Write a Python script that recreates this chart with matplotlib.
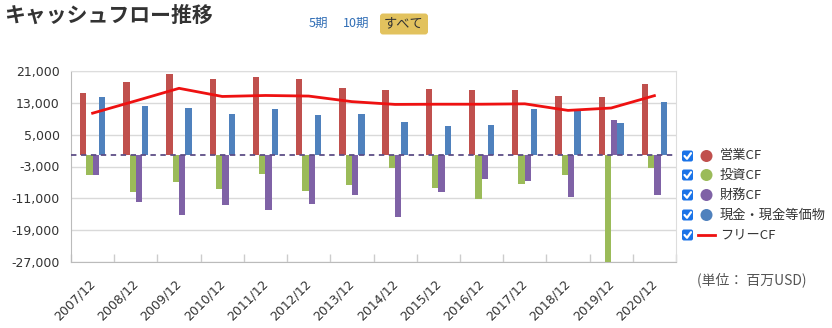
import matplotlib
matplotlib.use("Agg")
import matplotlib.pyplot as plt
import numpy as np
from matplotlib.patches import FancyBboxPatch, Circle
from matplotlib.ticker import FixedLocator, FuncFormatter
from matplotlib.transforms import ScaledTranslation

plt.rcParams['font.family'] = ['Noto Sans CJK JP', 'DejaVu Sans']

periods = ["2007/12", "2008/12", "2009/12", "2010/12", "2011/12", "2012/12", "2013/12",
           "2014/12", "2015/12", "2016/12", "2017/12", "2018/12", "2019/12", "2020/12"]
operating_cf = [15500, 18300, 20200, 19100, 19450, 19100, 16850, 16350, 16600, 16350, 16350, 14700, 14450, 17700]
investing_cf = [-5100, -9500, -7000, -8750, -4850, -9250, -7600, -3400, -8450, -11200, -7350, -5100, -27000, -3400]
financing_cf = [-5100, -12000, -15100, -12600, -13950, -12300, -10100, -15600, -9500, -6250, -6750, -10700, 8600, -10100]
cash_eq = [14450, 12300, 11700, 10300, 11450, 9950, 10300, 8100, 7200, 7500, 11350, 11100, 7850, 13300]
free_cf = [10400, 13500, 16650, 14600, 14850, 14700, 13300, 12600, 12650, 12650, 12750, 11100, 11700, 14800]
yticks = [21000, 13000, 5000, -3000, -11000, -19000, -27000]

series_names = ["営業CF", "投資CF", "財務CF", "現金・現金等価物", "フリーCF"]
colors = ["#C0504D", "#9BBB59", "#7F62A6", "#4F81BD"]
line_color = "#EE1111"

W, H = 832, 328
fig = plt.figure(figsize=(W / 100, H / 100), dpi=100)
ax = fig.add_axes([71 / W, 1 - 262 / H, (676 - 71) / W, (262 - 71) / H])

x = np.arange(len(periods))
bw = 0.146
bar_series = [operating_cf, investing_cf, financing_cf, cash_eq]
for i, (vals, c) in enumerate(zip(bar_series, colors)):
    ax.bar(x + (i - 1.5) * bw, vals, width=bw, color=c, zorder=3, linewidth=0)

ax.plot(x, free_cf, color=line_color, linewidth=2, zorder=4)
ax.axhline(0, color="#5E4E86", linewidth=1.3, linestyle=(0, (3, 2.5)), zorder=5)

ax.set_xlim(-0.5, len(periods) - 0.5)
ax.set_ylim(-27000, 21000)
ax.yaxis.set_major_locator(FixedLocator(yticks))
ax.yaxis.set_major_formatter(FuncFormatter(lambda v, p: f"{int(v):,}"))
ax.grid(axis='y', color="#D9D9D9", linewidth=1, zorder=0)
ax.tick_params(axis='y', length=0, labelsize=9, labelcolor="#333333", pad=8)

ax.set_xticks(x)
ax.set_xticklabels(periods, rotation=45, ha='right', rotation_mode='anchor',
                   fontsize=9, color="#333333", family=['DejaVu Sans'])
ax.tick_params(axis='x', which='major', length=0, pad=11)
shift = ScaledTranslation(-4 / 100, 0, fig.dpi_scale_trans)
for lab in ax.get_xticklabels():
    lab.set_transform(lab.get_transform() + shift)
ax.set_xticks(np.arange(len(periods) + 1) - 0.5, minor=True)
ax.tick_params(axis='x', which='minor', direction='in', length=6, color="#CCCCCC", width=1)
for lab in ax.get_yticklabels():
    lab.set_family(['DejaVu Sans'])

for s in ['left', 'bottom']:
    ax.spines[s].set_color("#BBBBBB")
for s in ['top', 'right']:
    ax.spines[s].set_color("#DDDDDD")
ax.set_facecolor("white")

# overlay in pixel coords
ov = fig.add_axes([0, 0, 1, 1], zorder=10)
ov.set_xlim(0, W)
ov.set_ylim(H, 0)
ov.axis('off')
ov.patch.set_alpha(0)

ov.text(4, 15, "キャッシュフロー推移", fontsize=15, fontweight='bold', color="#333333",
        va='center', ha='left')
ov.text(318, 23, "5期", fontsize=9, color="#2F6DB5", va='center', ha='center')
ov.text(356, 23, "10期", fontsize=9, color="#2F6DB5", va='center', ha='center')
ov.add_patch(FancyBboxPatch((380, 13.5), 48, 21, boxstyle="round,pad=0,rounding_size=3",
                            facecolor="#E2C25E", edgecolor="none"))
ov.text(404, 24, "すべて", fontsize=9.5, color="#333333", va='center', ha='center')

rows = [156, 175, 195, 215, 235]
for k, (yy, name) in enumerate(zip(rows, series_names)):
    ov.add_patch(FancyBboxPatch((682, yy - 5.5), 11, 11, boxstyle="round,pad=0,rounding_size=2",
                                facecolor="#1A73E8", edgecolor="none"))
    ov.plot([684.5, 687, 691], [yy, yy + 2.8, yy - 2.8], color="white", linewidth=1.6,
            solid_capstyle='round', solid_joinstyle='round')
    if k < 4:
        ov.add_patch(Circle((706.5, yy), 6, facecolor=colors[k], edgecolor="none"))
    else:
        ov.plot([698, 715], [yy, yy], color=line_color, linewidth=2)
    ov.text(720, yy, name, fontsize=9.5, color="#333333", va='center', ha='left')

ov.text(697, 280, "(単位： 百万USD)", fontsize=10, color="#555555", va='center', ha='left')

fig.savefig("out.png", dpi=100, facecolor="white")
